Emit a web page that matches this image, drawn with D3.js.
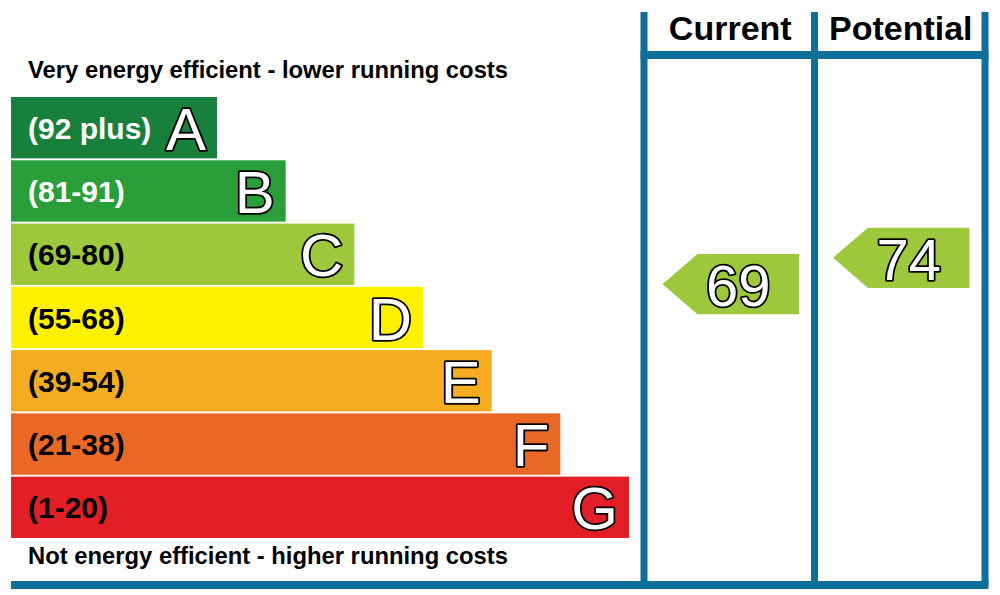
<!DOCTYPE html>
<html>
<head>
<meta charset="utf-8">
<script src="https://cdn.jsdelivr.net/npm/d3@7"></script>
<style>
  html, body { margin: 0; padding: 0; background: #fff; }
  svg { display: block; }
  text { font-family: "Liberation Sans", Arial, sans-serif; }
</style>
</head>
<body>
<svg id="chart" width="1000" height="595"></svg>
<script>
// ---- data ----
const bands = ["A", "B", "C", "D", "E", "F", "G"];
const rangeLabels = ["(92 plus)", "(81-91)", "(69-80)", "(55-68)", "(39-54)", "(21-38)", "(1-20)"];
const bandMin = [92, 81, 69, 55, 39, 21, 1];
const bandMax = [100, 91, 80, 68, 54, 38, 20];
const barUnits = [3, 4, 5, 6, 7, 8, 9];
const bandColors = ["#16803c", "#2a9f39", "#9dc83c", "#fff100", "#f5ac20", "#ea6825", "#e21f26"];
const labelColors = ["#ffffff", "#ffffff", "#000000", "#000000", "#000000", "#000000", "#000000"];
const columns = ["Current", "Potential"];
const ratings = [69, 74];
const topNote = "Very energy efficient - lower running costs";
const bottomNote = "Not energy efficient - higher running costs";

// ---- layout ----
const svg = d3.select("#chart");
const frameBlue = "#0e6f98";

const y = d3.scaleBand().domain(bands).range([97, 538]).paddingInner(0.03);
const x = d3.scaleLinear().domain([0, 9]).range([11, 629]);

// piecewise scale: score -> vertical position within the band ladder
const edgesDomain = [bandMax[0] + 0.5].concat(bandMin.map(v => v - 0.5));
const edgesRange = bands.map(b => y(b)).concat([y(bands[bands.length - 1]) + y.bandwidth()]);
const vScale = d3.scaleLinear().domain(edgesDomain).range(edgesRange);

const colX = d3.scaleBand().domain(columns).range([644, 985]).paddingInner(0).paddingOuter(0);

// ---- bars ----
const rows = bands.map((b, i) => ({ band: b, label: rangeLabels[i], units: barUnits[i], color: bandColors[i], lc: labelColors[i] }));

const g = svg.append("g");
g.selectAll("rect.bar").data(rows).join("rect")
  .attr("class", "bar")
  .attr("x", x(0))
  .attr("y", d => y(d.band))
  .attr("width", d => x(d.units) - x(0))
  .attr("height", y.bandwidth())
  .attr("fill", d => d.color);

g.selectAll("text.range").data(rows).join("text")
  .attr("class", "range")
  .attr("x", 28)
  .attr("y", d => y(d.band) + y.bandwidth() / 2 + 11)
  .attr("fill", d => d.lc)
  .attr("font-size", 30)
  .attr("font-weight", "bold")
  .text(d => d.label);

g.selectAll("text.letter").data(rows).join("text")
  .attr("class", "letter")
  .attr("x", d => x(d.units) - 11)
  .attr("y", d => y(d.band) + y.bandwidth() / 2 + 22)
  .attr("text-anchor", "end")
  .attr("fill", "#fff")
  .attr("stroke", "#000")
  .attr("stroke-width", 3.6)
  .attr("paint-order", "stroke")
  .attr("stroke-linejoin", "round")
  .attr("font-size", 60)
  .text(d => d.band);

// ---- notes ----
svg.append("text").attr("x", 28).attr("y", 78)
  .attr("font-size", 23.8).attr("font-weight", "bold").attr("fill", "#000")
  .text(topNote);
svg.append("text").attr("x", 28).attr("y", 564)
  .attr("font-size", 23.8).attr("font-weight", "bold").attr("fill", "#000")
  .text(bottomNote);

// ---- frame ----
const frameTop = 12, headerLine = 55, bottomLine = 585;
const vLines = [colX.range()[0], colX(columns[1]), colX.range()[1]];
svg.selectAll("rect.vline").data(vLines).join("rect")
  .attr("class", "vline")
  .attr("x", d => d - 3.5).attr("y", frameTop)
  .attr("width", 7).attr("height", bottomLine - frameTop)
  .attr("fill", frameBlue);
svg.append("rect").attr("x", vLines[0] - 3.5).attr("y", headerLine - 4)
  .attr("width", vLines[2] - vLines[0] + 7).attr("height", 8).attr("fill", frameBlue);
svg.append("rect").attr("x", 11).attr("y", bottomLine - 4)
  .attr("width", vLines[2] + 3.5 - 11).attr("height", 8).attr("fill", frameBlue);

// headers
svg.selectAll("text.head").data(columns).join("text")
  .attr("class", "head")
  .attr("x", d => colX(d) + colX.bandwidth() / 2 + 1)
  .attr("y", 40)
  .attr("text-anchor", "middle")
  .attr("font-size", 34).attr("font-weight", "bold").attr("fill", "#000")
  .text(d => d);

// ---- rating arrows ----
const arrowData = columns.map((c, i) => ({ col: c, value: ratings[i] }));
const bandIndexOf = v => bandMin.findIndex((m, i) => v >= m && v <= bandMax[i]);
const arrowH = y.bandwidth() - 1;
const arrows = svg.selectAll("g.arrow").data(arrowData).join("g").attr("class", "arrow");
arrows.append("path")
  .attr("d", d => {
    const cy = vScale(d.value);
    const left = colX(d.col) + 3.5 + 15;
    const right = colX(d.col) + colX.bandwidth() - 3.5 - 12;
    const h = arrowH / 2;
    const notch = left + 35;
    return `M${left},${cy} L${notch},${cy - h} L${right},${cy - h} L${right},${cy + h} L${notch},${cy + h} Z`;
  })
  .attr("fill", d => bandColors[bandIndexOf(d.value)]);
arrows.append("text")
  .attr("x", d => {
    const left = colX(d.col) + 3.5 + 15 + 35;
    const right = colX(d.col) + colX.bandwidth() - 3.5 - 12;
    return (left + right) / 2 - 10;
  })
  .attr("y", d => vScale(d.value) + 22)
  .attr("text-anchor", "middle")
  .attr("fill", "#fff")
  .attr("stroke", "#000")
  .attr("stroke-width", 3.6)
  .attr("paint-order", "stroke")
  .attr("stroke-linejoin", "round")
  .attr("font-size", 58)
  .text(d => d.value);
</script>
</body>
</html>
